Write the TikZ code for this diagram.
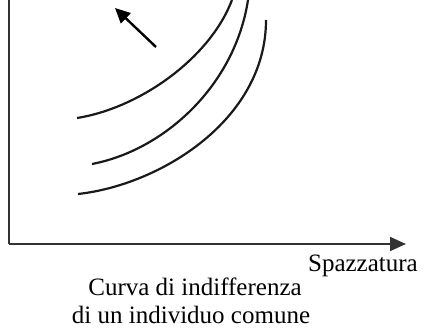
\documentclass[tikz,border=0pt]{standalone}
\usepackage{fontspec}
\setmainfont{Liberation Serif}
\usetikzlibrary{arrows.meta}

\begin{document}
\begin{tikzpicture}[x=1pt, y=-1pt, >={Triangle[length=16pt, width=14pt]}]
  \useasboundingbox (0,0) rectangle (424,332);
  \tikzset{
    axis/.style={line width=1.8pt, draw=black!80},
    curve/.style={line width=2.2pt, draw=black!90},
    lbl/.style={inner sep=0pt, font=\fontsize{25}{29}\selectfont}
  }
  % axes
  \coordinate (yend) at (9,0);
  \coordinate (orig) at (9,244);
  \coordinate (xend) at (406,244);
  \draw[axis] (yend) -- (orig);
  \draw[axis, ->] (orig) -- (xend);
  % indifference curves
  \draw[curve] (77,118) .. controls (140,108) and (210,58) .. (232,0);
  \draw[curve] (92,164) .. controls (165,150) and (235,85) .. (248,0);
  \draw[curve] (78,194) .. controls (160,185) and (266,120) .. (266,20);
  % direction of preference
  \coordinate (pfrom) at (156,47);
  \coordinate (pto) at (115,8);
  \draw[line width=2.4pt, -{Triangle[length=15pt, width=14pt]}] (pfrom) -- (pto);
  % labels
  \node[lbl, anchor=base east] (xlabel) at (418,271) {Spazzatura};
  \node[lbl, anchor=base] (capA) at (195,295) {Curva di indifferenza};
  \node[lbl, anchor=base] (capB) at (191,323) {di un individuo comune};
\end{tikzpicture}
\end{document}
